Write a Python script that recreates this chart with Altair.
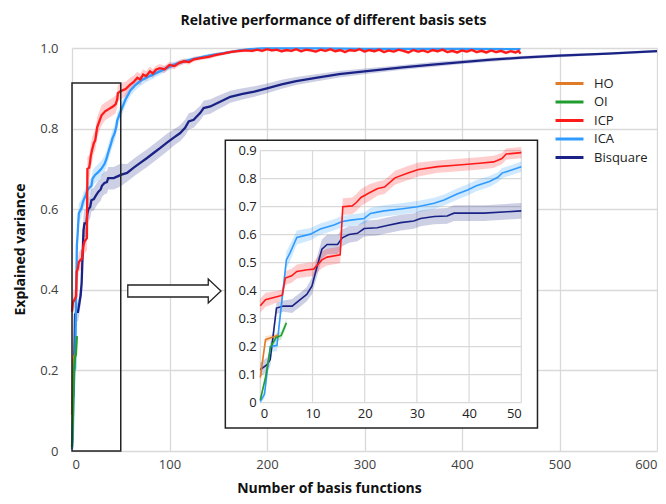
import altair as alt
import pandas as pd

# ---------------- data ----------------
SERIES = ["HO", "OI", "ICP", "ICA", "Bisquare"]
COLORS = ["#e07b28", "#1f9e2f", "#ff1a1a", "#2f9bff", "#1a2385"]

HO_X = [0, 1, 2, 3, 3.5]
HO_Y = [0.09, 0.225, 0.232, 0.238, 0.24]
HO_E = [0.03, 0.012, 0.01, 0.01, 0.01]

OI_X = [0, 1, 2, 3, 4, 5]
OI_Y = [0.01, 0.09, 0.2, 0.232, 0.24, 0.285]
OI_E = [0.01, 0.015, 0.015, 0.012, 0.015, 0.015]

ICP_X = [0, 1, 3.5, 4.2, 4.8, 6, 7, 9, 10.2, 11.8, 12.8, 15.3, 15.8, 17.6, 18.4,
         19.3, 20.9, 22.5, 23.8, 25.8, 28.3, 30.3, 34, 38, 42, 44.7, 46.3, 47.1, 50,
         55, 60, 63, 67, 70, 73, 76, 80, 83, 86, 90, 95, 100, 105, 110, 115, 120,
         125, 132, 140, 148, 155, 162, 170, 178, 185, 190, 195,
         200, 205, 210, 215, 220, 225, 230, 235, 240, 245, 250, 255, 260, 265, 270,
         275, 280, 285, 290, 295, 300, 305, 310, 315, 320, 325, 330, 335, 340, 345,
         350, 355, 360, 365, 370, 375, 380, 385, 390, 395, 400, 405, 410, 415, 420,
         425, 430, 435, 440, 445, 450, 455, 458, 460]
ICP_Y = [0.346, 0.368, 0.38, 0.384, 0.445, 0.453, 0.469, 0.475, 0.477, 0.51, 0.52,
         0.528, 0.70, 0.703, 0.715, 0.733, 0.75, 0.765, 0.77, 0.803, 0.82, 0.833,
         0.843, 0.849, 0.855, 0.86, 0.872, 0.888, 0.893,
         0.898, 0.91, 0.915, 0.926, 0.922, 0.934, 0.93, 0.942, 0.937, 0.946, 0.95,
         0.947, 0.958, 0.955, 0.963, 0.967, 0.965, 0.972, 0.975, 0.978, 0.983, 0.986,
         0.99, 0.992, 0.994, 0.993, 0.996, 0.993,
         0.997, 0.994, 0.996, 0.992, 0.995, 0.993, 0.997, 0.992, 0.996, 0.994, 0.991,
         0.996, 0.993, 0.997, 0.992, 0.995, 0.990, 0.995, 0.993, 0.997, 0.991, 0.995,
         0.992, 0.996, 0.990, 0.994, 0.991, 0.996, 0.993, 0.989, 0.995, 0.991, 0.994,
         0.990, 0.995, 0.992, 0.996, 0.990, 0.993, 0.989, 0.994, 0.991, 0.995, 0.990,
         0.993, 0.989, 0.994, 0.990, 0.993, 0.988, 0.992, 0.989, 0.993, 0.986]
ICP_E = [0.025, 0.025, 0.02, 0.02, 0.025, 0.025, 0.025, 0.025, 0.025, 0.03, 0.03,
         0.03, 0.03, 0.03, 0.03, 0.03, 0.03, 0.025, 0.025, 0.025, 0.025, 0.025,
         0.022, 0.022, 0.022, 0.022, 0.02, 0.02, 0.02,
         0.018, 0.017, 0.016, 0.015, 0.014, 0.013, 0.012, 0.012, 0.011, 0.01, 0.01,
         0.009, 0.008, 0.008, 0.007, 0.007, 0.006, 0.006, 0.005, 0.005, 0.005, 0.004,
         0.004, 0.004, 0.004, 0.004, 0.004, 0.004,
         0.004, 0.004, 0.004, 0.004, 0.004, 0.004, 0.004, 0.004, 0.004, 0.004, 0.004,
         0.004, 0.004, 0.004, 0.004, 0.004, 0.004, 0.004, 0.004, 0.004, 0.004, 0.004,
         0.004, 0.004, 0.004, 0.004, 0.004, 0.004, 0.004, 0.004, 0.004, 0.004, 0.004,
         0.004, 0.004, 0.004, 0.004, 0.004, 0.004, 0.004, 0.004, 0.004, 0.004, 0.004,
         0.004, 0.004, 0.004, 0.004, 0.004, 0.004, 0.004, 0.004, 0.004, 0.004]

ICA_X = [0, 0.8, 1.9, 3.2, 3.8, 5, 5.7, 7, 9.6, 11.5, 14.1, 15.7, 17.3, 19.9, 21.1,
         23.7, 26.9, 30.1, 33.3, 35.2, 37.7, 39.7, 41.4, 43.9, 45.5, 46.3, 48, 50,
         55, 60, 65, 70, 76, 83, 90, 97, 104, 114, 123, 132, 140, 149, 162, 172,
         182, 195, 210, 250, 300, 350, 400, 460]
ICA_Y = [0.005, 0.03, 0.2, 0.205, 0.308, 0.51, 0.535, 0.59, 0.602, 0.62, 0.635,
         0.647, 0.652, 0.658, 0.676, 0.685, 0.692, 0.70, 0.712, 0.724, 0.745, 0.76,
         0.775, 0.79, 0.805, 0.82, 0.83, 0.843,
         0.873, 0.895, 0.908, 0.918, 0.926, 0.934, 0.942, 0.95, 0.958, 0.966, 0.972,
         0.977, 0.981, 0.985, 0.99, 0.994, 0.997, 0.999, 0.999, 0.999, 0.998, 0.998,
         0.998, 0.997]
ICA_E = [0.01, 0.015, 0.02, 0.02, 0.025, 0.03, 0.03, 0.025, 0.022, 0.02, 0.02, 0.02,
         0.02, 0.02, 0.02, 0.02, 0.02, 0.02, 0.02, 0.02, 0.02, 0.02, 0.02, 0.02,
         0.018, 0.018, 0.018, 0.018,
         0.015, 0.014, 0.013, 0.012, 0.011, 0.01, 0.009, 0.008, 0.007, 0.006, 0.005,
         0.004, 0.004, 0.003, 0.003, 0.002, 0.002, 0.002, 0.002, 0.002, 0.002, 0.002,
         0.002, 0.002]

BIS_X = [0, 1.3, 1.9, 3.1, 4.5, 6.1, 7.7, 8.9, 9.9, 10.9, 11.8, 12.8, 14.8, 15.7, 17,
         18.6, 19.9, 22.4, 24.3, 26.9, 29.4, 30.7, 33.3, 35.8, 37.1, 42.8, 47.3, 50,
         56.5, 63.3, 70, 77, 84, 90.6, 97.4, 104, 111, 116, 119.7, 124.8, 131.6, 135,
         141.9, 148.7, 155.6, 162.4, 175, 187, 200, 215, 230, 250, 274, 300, 339, 370,
         400, 430, 461, 500, 550, 600]
BIS_Y = [0.118, 0.136, 0.154, 0.338, 0.345, 0.345, 0.369, 0.387, 0.417, 0.488, 0.548,
         0.565, 0.565, 0.589, 0.601, 0.605, 0.622, 0.625, 0.633, 0.643, 0.649, 0.658,
         0.665, 0.667, 0.677, 0.677, 0.682, 0.685,
         0.69, 0.703, 0.715, 0.727, 0.74, 0.752, 0.765, 0.777, 0.789, 0.802, 0.818,
         0.822, 0.839, 0.851, 0.855, 0.863, 0.871, 0.879, 0.886, 0.892, 0.90, 0.91,
         0.918, 0.926, 0.935, 0.942, 0.952, 0.959, 0.965, 0.971, 0.976, 0.981, 0.986,
         0.992]
BIS_E = [0.025, 0.025, 0.025, 0.02, 0.02, 0.025, 0.025, 0.025, 0.03, 0.035, 0.035,
         0.035, 0.035, 0.03, 0.03, 0.028, 0.028, 0.028, 0.028, 0.028, 0.028, 0.028,
         0.028, 0.028, 0.028, 0.028, 0.028, 0.028,
         0.022, 0.022, 0.022, 0.022, 0.022, 0.022, 0.022, 0.02, 0.02, 0.02, 0.02, 0.02,
         0.018, 0.018, 0.018, 0.017, 0.016, 0.015, 0.014, 0.013, 0.012, 0.011, 0.01,
         0.009, 0.008, 0.007, 0.006, 0.006, 0.005, 0.005, 0.004, 0.004, 0.003, 0.003]

MAIN_XT = [0, 100, 200, 300, 400, 500, 600]
MAIN_YT = [0, 0.2, 0.4, 0.6, 0.8, 1.0]
INSET_XT = [0, 10, 20, 30, 40, 50]
INSET_YT = [0, 0.1, 0.2, 0.3, 0.4, 0.5, 0.6, 0.7, 0.8, 0.9]

# annotations (in data units)
ZOOM_BOX = {"x": [0], "x2": [50], "y": [0], "y2": [0.913]}
ARROW_AT = {"x": [105], "y": [0.397]}
INSET_BOX = {"x": [-6.7], "x2": [53.1], "y": [-0.09], "y2": [0.937]}

FONT = "Open Sans"

rows = []
for name, xs, ys, es in [("Bisquare", BIS_X, BIS_Y, BIS_E),
                         ("ICA", ICA_X, ICA_Y, ICA_E),
                         ("HO", HO_X, HO_Y, HO_E),
                         ("OI", OI_X, OI_Y, OI_E),
                         ("ICP", ICP_X, ICP_Y, ICP_E)]:
    assert len(xs) == len(ys) == len(es), name
    for x, y, e in zip(xs, ys, es):
        rows.append({"series": name, "x": x, "y": y, "lo": y - e, "hi": y + e})
df = pd.DataFrame(rows)

# ---------------- scales ----------------
MX = alt.Scale(domain=[0, 600], nice=False, zero=False)
MY = alt.Scale(domain=[0, 1], nice=False, zero=False)
IX = alt.Scale(domain=[0, 50], range=[188.3, 449.3], nice=False, zero=False)
IY = alt.Scale(domain=[0, 0.9], range=[354.7, 102.7], nice=False, zero=False)
CS = alt.Scale(domain=SERIES, range=COLORS)

legend = alt.Legend(orient="none", legendX=490, legendY=28, title=None,
                    symbolType="M-2.33,0L2.33,0", symbolSize=144, symbolStrokeWidth=3,
                    symbolOpacity=1,
                    labelFontSize=13, labelFont=FONT, labelColor="#222",
                    labelOffset=17, rowPadding=3.5)
COLOR = alt.Color("series:N", scale=CS, legend=legend)

main_x_axis = alt.Axis(values=MAIN_XT, title="Number of basis functions", grid=True,
                       domain=False, ticks=False, labelPadding=7, labelFontSize=13,
                       labelColor="#404040", labelFont=FONT, titleFont=FONT,
                       titleFontSize=14, titleFontWeight="bold", titleColor="#111",
                       titleX=257, titleY=37, titleBaseline="middle",
                       gridColor="#d9d9d9", gridWidth=1.3)
main_y_axis = alt.Axis(values=MAIN_YT, title="Explained variance", grid=True,
                       domain=False, ticks=False, labelPadding=14, labelFontSize=13,
                       labelColor="#404040", labelFont=FONT, titleFont=FONT,
                       labelExpr="datum.value == 0 ? '0' : format(datum.value, '.1f')",
                       titleFontSize=14, titleFontWeight="bold", titleColor="#111",
                       titleX=-52, titleY=201, titleBaseline="middle", titleAngle=-90,
                       gridColor="#d9d9d9", gridWidth=1.3)

mx = alt.X("x:Q", scale=MX, axis=main_x_axis)
my = alt.Y("y:Q", scale=MY, axis=main_y_axis)

main_band = alt.Chart(df).mark_area(opacity=0.22).encode(
    x=alt.X("x:Q", scale=MX),
    y=alt.Y("lo:Q", scale=MY, stack=None),
    y2="hi:Q",
    color=COLOR,
)
main_line = alt.Chart(df).mark_line(strokeWidth=2.3).encode(
    x=mx, y=my, color=COLOR,
)
zoom_box = alt.Chart(pd.DataFrame(ZOOM_BOX)).mark_rect(
    fillOpacity=0, stroke="#222", strokeWidth=1.5).encode(
    x=alt.X("x:Q", scale=MX), x2="x2:Q",
    y=alt.Y("y:Q", scale=MY), y2="y2:Q")

ARROW_PATH = ("M-1,-0.129L0.727,-0.129L0.727,-0.258L1,0L0.727,0.258"
              "L0.727,0.129L-1,0.129Z")
arrow = alt.Chart(pd.DataFrame(ARROW_AT)).mark_point(
    shape=ARROW_PATH, size=8686, filled=True, fill="white", stroke="#222",
    strokeWidth=1.3, opacity=1).encode(
    x=alt.X("x:Q", scale=MX), y=alt.Y("y:Q", scale=MY))

main = alt.layer(main_band, main_line, zoom_box, arrow)

# ---------------- inset ----------------
inset_x_axis = alt.Axis(values=INSET_XT, title=None, grid=False, domain=False,
                        ticks=False, orient="bottom", offset=-48.7, labelPadding=5,
                        labelFontSize=13, labelColor="#222", labelFont=FONT, zindex=1)
inset_y_axis = alt.Axis(values=INSET_YT, title=None, grid=False, domain=False,
                        ticks=False, orient="left", offset=-188.3, labelPadding=4,
                        labelFontSize=13, labelColor="#222", labelFont=FONT, zindex=1,
                        labelExpr="datum.value == 0 ? '0' : format(datum.value, '.1f')")

idf = df[df["x"] <= 50]

inset_box = alt.Chart(pd.DataFrame(INSET_BOX)).mark_rect(
    fill="white", stroke="#222", strokeWidth=1.5).encode(
    x=alt.X("x:Q", scale=IX, axis=inset_x_axis), x2="x2:Q",
    y=alt.Y("y:Q", scale=IY, axis=inset_y_axis), y2="y2:Q")
vgrid = alt.Chart(pd.DataFrame({"t": INSET_XT})).mark_rule(
    color="#d9d9d9", strokeWidth=1.2).encode(
    x=alt.X("t:Q", scale=IX),
    y=alt.datum(INSET_YT[0], type="quantitative", scale=IY),
    y2=alt.datum(INSET_YT[-1]))
hgrid = alt.Chart(pd.DataFrame({"t": INSET_YT})).mark_rule(
    color="#d9d9d9", strokeWidth=1.2).encode(
    y=alt.Y("t:Q", scale=IY),
    x=alt.datum(INSET_XT[0], type="quantitative", scale=IX),
    x2=alt.datum(INSET_XT[-1]))
inset_band = alt.Chart(idf).mark_area(opacity=0.22).encode(
    x=alt.X("x:Q", scale=IX),
    y=alt.Y("lo:Q", scale=IY, stack=None),
    y2="hi:Q",
    color=COLOR,
)
inset_line = alt.Chart(idf).mark_line(strokeWidth=1.6).encode(
    x=alt.X("x:Q", scale=IX),
    y=alt.Y("y:Q", scale=IY),
    color=COLOR,
)

inset = alt.layer(inset_box, vgrid, hgrid, inset_band, inset_line)

chart = alt.layer(main, inset).resolve_scale(
    x="independent", y="independent", color="shared"
).properties(
    width=585, height=403,
    padding={"left": 64, "top": 40, "right": 1, "bottom": 45},
    autosize=alt.AutoSizeParams(type="none"),
    title=alt.TitleParams("Relative performance of different basis sets",
                          fontSize=14, fontWeight="bold", font=FONT, color="#111",
                          dx=-31, offset=14),
).configure_view(stroke=None)

chart.save("out.html", embed_options={"renderer": "svg", "actions": False})
